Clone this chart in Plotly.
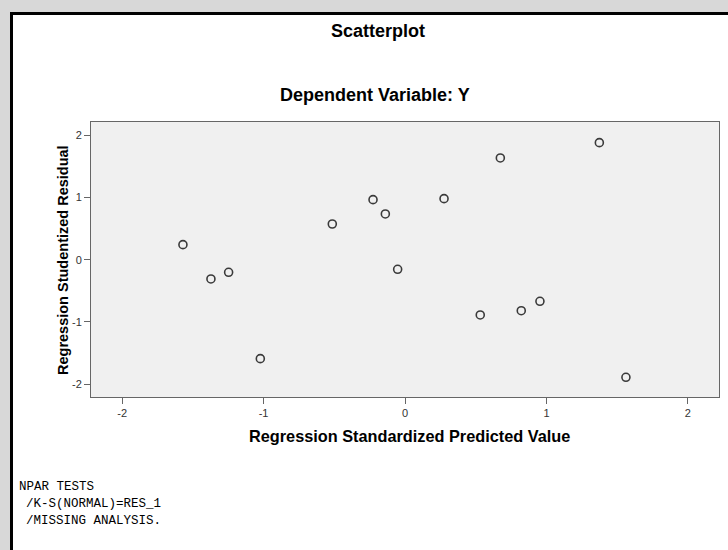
import plotly.graph_objects as go

# ---- data ----
pred_std = [-1.570, -1.372, -1.247, -1.023, -0.514, -0.226, -0.139, -0.052,
            0.276, 0.674, 1.374, 0.532, 0.822, 0.954, 1.562]
resid_stud = [0.242, -0.309, -0.202, -1.590, 0.574, 0.965, 0.735, -0.154,
              0.981, 1.635, 1.881, -0.888, -0.819, -0.668, -1.889]
tick_vals = [-2, -1, 0, 1, 2]
tick_text = ["-2", "-1", "0", "1", "2"]

title_main = "Scatterplot"
title_sub = "Dependent Variable: Y"
x_title = "Regression Standardized Predicted Value"
y_title = "Regression Studentized Residual"
syntax_lines = ["NPAR TESTS", "/K-S(NORMAL)=RES_1", "/MISSING ANALYSIS."]

W, H = 728, 550
L, R, T, B = 91, 719, 122, 397  # plot area in pixels


def fx(px):
    return (px - L) / (R - L)


def fy(py):
    return (B - py) / (B - T)


fig = go.Figure()
fig.add_trace(go.Scatter(
    x=pred_std, y=resid_stud, mode="markers",
    marker=dict(symbol="circle-open", size=8, color="#3a3a3a",
                line=dict(width=1.6, color="#3a3a3a")),
    hoverinfo="x+y", showlegend=False))

axis_common = dict(showline=True, mirror=True, linecolor="#666666", linewidth=1,
                   ticks="outside", ticklen=6, tickcolor="#666666", tickwidth=1,
                   showgrid=False, zeroline=False, tickvals=tick_vals,
                   ticktext=tick_text,
                   tickfont=dict(family="Liberation Sans, Arial", size=11, color="#333333"))

fig.update_xaxes(range=[-2.220, 2.220], **axis_common)
fig.update_yaxes(range=[-2.206, 2.213], **axis_common)

shapes = [
    # grey page background outside the output frame
    dict(type="rect", xref="paper", yref="paper", x0=fx(-5), x1=fx(W + 5),
         y0=fy(12), y1=fy(-5), fillcolor="#d8d8d8", line=dict(width=0), layer="below"),
    dict(type="rect", xref="paper", yref="paper", x0=fx(-5), x1=fx(10),
         y0=fy(H + 5), y1=fy(12), fillcolor="#d8d8d8", line=dict(width=0), layer="below"),
    # black frame lines
    dict(type="line", xref="paper", yref="paper", x0=fx(10), x1=fx(W + 5),
         y0=fy(13.5), y1=fy(13.5), line=dict(color="#000000", width=3)),
    dict(type="line", xref="paper", yref="paper", x0=fx(11.5), x1=fx(11.5),
         y0=fy(12), y1=fy(H + 5), line=dict(color="#000000", width=3)),
]

ann = []
bold = "Liberation Sans, Arial"
ann.append(dict(text="<b>%s</b>" % title_main, x=fx(377.5), y=fy(31), xref="paper", yref="paper",
                showarrow=False, xanchor="center", yanchor="middle",
                font=dict(family=bold, size=18, color="#000000")))
ann.append(dict(text="<b>%s</b>" % title_sub, x=fx(375), y=fy(95), xref="paper", yref="paper",
                showarrow=False, xanchor="center", yanchor="middle",
                font=dict(family=bold, size=18, color="#000000")))
ann.append(dict(text="<b>%s</b>" % x_title, x=fx(409), y=fy(436), xref="paper", yref="paper",
                showarrow=False, xanchor="center", yanchor="middle",
                font=dict(family=bold, size=16.3, color="#000000")))
ann.append(dict(text="<b>%s</b>" % y_title, x=fx(63), y=fy(260), xref="paper", yref="paper",
                showarrow=False, xanchor="center", yanchor="middle", textangle=-90,
                font=dict(family=bold, size=14.5, color="#000000")))

mono = "Courier New, Liberation Mono, monospace"
line_x = [17, 24, 24]
line_y = [487, 504, 521]
for txt, lx, ly in zip(syntax_lines, line_x, line_y):
    ann.append(dict(text=txt, x=fx(lx), y=fy(ly), xref="paper", yref="paper",
                    showarrow=False, xanchor="left", yanchor="middle",
                    font=dict(family=mono, size=12.5, color="#000000")))

fig.update_layout(width=W, height=H, margin=dict(l=L, r=W - R, t=T, b=H - B, pad=0),
                  paper_bgcolor="#ffffff", plot_bgcolor="#f0f0f0",
                  shapes=shapes, annotations=ann, showlegend=False)

fig.write_html("out.html", config={"displayModeBar": False},
               post_script="document.body.style.margin='0';document.body.style.overflow='hidden';")
